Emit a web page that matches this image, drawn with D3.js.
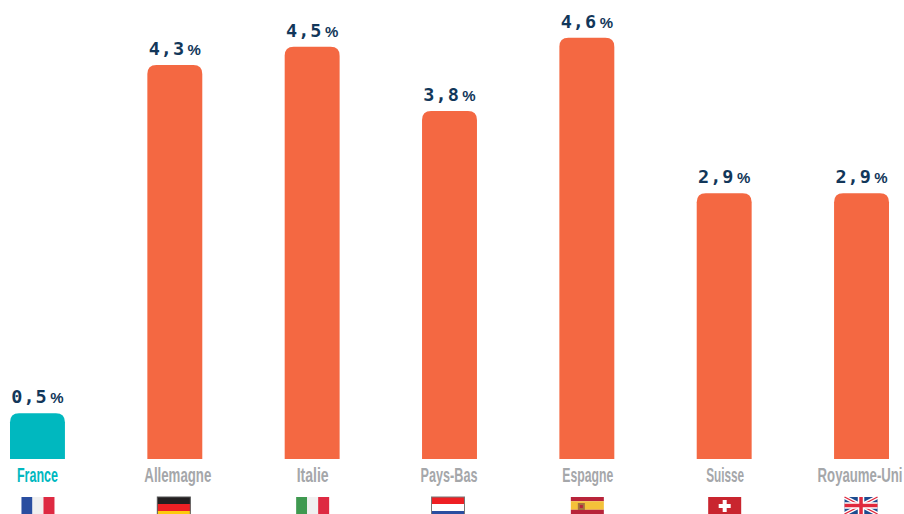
<!DOCTYPE html>
<html>
<head>
<meta charset="utf-8">
<script src="https://cdn.jsdelivr.net/npm/d3@7"></script>
<style>
html, body { margin: 0; padding: 0; background: #fff; overflow: hidden; }
</style>
</head>
<body>
<div id="container"></div>
<script>
const countries = ["France", "Allemagne", "Italie", "Pays-Bas", "Espagne", "Suisse", "Royaume-Uni"]
const values = [0.5, 4.3, 4.5, 3.8, 4.6, 2.9, 2.9]
const valueLabels = ["0,5", "4,3", "4,5", "3,8", "4,6", "2,9", "2,9"]

const width = 904
const height = 514
const baseline = 459

const orange = "#f46842"
const teal = "#00b8bf"
const navy = "#12375a"
const grey = "#a5a7aa"

// hand tuned, the labels and flags are not quite centred under the bars
const labelLayout = {
    "France": { w: 41, dx: 0 },
    "Allemagne": { w: 67, dx: 3 },
    "Italie": { w: 32, dx: 0.5 },
    "Pays-Bas": { w: 57, dx: -0.5 },
    "Espagne": { w: 51, dx: 1 },
    "Suisse": { w: 38, dx: 1 },
    "Royaume-Uni": { w: 85, dx: -1.5 }
}
const flagNudge = { "Allemagne": -1.5, "Pays-Bas": -2, "Royaume-Uni": -1 }

const x = d3.scaleBand().domain(countries).range([10, 889]).paddingInner(0.6).paddingOuter(0)
const y = d3.scaleLinear().domain([0, 5]).range([baseline, baseline - 458])

const svg = d3.select("#container").append("svg")
    .attr("width", width)
    .attr("height", height)
    .style("display", "block")

const data = countries.map((c, i) => ({ name: c, value: values[i], label: valueLabels[i] }))

function barPath(d) {
    const x0 = x(d.name), x1 = x0 + x.bandwidth(), y0 = y(d.value), r = 9
    return `M${x0},${baseline}V${y0 + r}Q${x0},${y0} ${x0 + r},${y0}H${x1 - r}Q${x1},${y0} ${x1},${y0 + r}V${baseline}Z`
}

svg.selectAll(".bar")
    .data(data)
    .enter()
    .append("path")
    .attr("class", "bar")
    .attr("d", barPath)
    .attr("fill", d => d.name === "France" ? teal : orange)

const valueGroup = svg.selectAll(".value")
    .data(data)
    .enter()
    .append("text")
    .attr("class", "value")
    .attr("x", d => x(d.name) + x.bandwidth() / 2)
    .attr("y", d => y(d.value) - 10)
    .attr("text-anchor", "middle")
    .attr("fill", navy)
    .attr("font-family", "'DejaVu Sans Mono', monospace")
    .attr("font-weight", "bold")

valueGroup.append("tspan")
    .attr("font-size", 18.5)
    .attr("letter-spacing", 1)
    .text(d => d.label)
valueGroup.append("tspan")
    .attr("font-size", 15)
    .attr("font-family", "'Liberation Sans', sans-serif")
    .attr("dx", 2.5)
    .text("%")

// the original face is condensed, so squeeze each label to its measured width
svg.selectAll(".country")
    .data(data)
    .enter()
    .append("text")
    .attr("class", "country")
    .attr("text-anchor", "middle")
    .attr("font-family", "'Liberation Sans Narrow', 'Liberation Sans', sans-serif")
    .attr("font-size", 20)
    .attr("font-weight", "bold")
    .attr("fill", d => d.name === "France" ? teal : grey)
    .text(d => d.name)
    .attr("transform", function(d) {
        const sx = labelLayout[d.name].w / this.getComputedTextLength()
        return `translate(${x(d.name) + x.bandwidth() / 2 + labelLayout[d.name].dx},482) scale(${sx},1)`
    })

// flags, each one a list of stripes
const flagW = 33
const flagH = 17
const flagTop = 497
const vertical = {
    "France": ["#2a4ea0", "#f0f0f0", "#de2a42"],
    "Italie": ["#3f9950", "#f0f0f0", "#de2a42"]
}
const horizontal = {
    "Allemagne": [["#231f20", 1], ["#ee2024", 1], ["#fdca0d", 1]],
    "Pays-Bas": [["#ee2024", 1], ["#ffffff", 1], ["#2a4ea0", 1]],
    "Espagne": [["#b8243a", 1], ["#f4c23a", 2], ["#b8243a", 1]],
    "Suisse": [["#c9252f", 1]],
    "Royaume-Uni": [["#1d4b8f", 1]]
}

const flags = svg.selectAll(".flag")
    .data(data)
    .enter()
    .append("g")
    .attr("class", "flag")
    .attr("transform", d => `translate(${x(d.name) + x.bandwidth() / 2 - flagW / 2 + 0.5 + (flagNudge[d.name] || 0)},${flagTop})`)

flags.each(function(d) {
    const g = d3.select(this)
    if (vertical[d.name]) {
        const sx = d3.scaleBand().domain([0, 1, 2]).range([0, flagW])
        g.selectAll("rect").data(vertical[d.name]).enter().append("rect")
            .attr("x", (c, i) => sx(i)).attr("y", 0)
            .attr("width", sx.bandwidth()).attr("height", flagH)
            .attr("fill", c => c)
    } else {
        const stripes = horizontal[d.name]
        const total = d3.sum(stripes, s => s[1])
        let acc = 0
        const visH = d.name === "Allemagne" || d.name === "Pays-Bas" ? 21 : flagH
        stripes.forEach(s => {
            g.append("rect")
                .attr("x", 0).attr("y", acc / total * visH)
                .attr("width", flagW).attr("height", s[1] / total * visH)
                .attr("fill", s[0])
            acc += s[1]
        })
    }
    if (d.name === "Allemagne" || d.name === "Pays-Bas") {
        g.append("rect").attr("x", 0).attr("y", 0).attr("width", flagW).attr("height", 21)
            .attr("fill", "none").attr("stroke", d.name === "Allemagne" ? "#555" : "#777").attr("stroke-width", 1)
    }
    if (d.name === "Espagne") {
        g.append("rect").attr("x", 7).attr("y", 6).attr("width", 7).attr("height", 7).attr("fill", "#a5713f")
        g.append("rect").attr("x", 9).attr("y", 8).attr("width", 3).attr("height", 3).attr("fill", "#b8243a")
    }
    if (d.name === "Suisse") {
        g.append("rect").attr("x", flagW / 2 - 6).attr("y", 7).attr("width", 12).attr("height", 4).attr("fill", "#fff")
        g.append("rect").attr("x", flagW / 2 - 2).attr("y", 3).attr("width", 4).attr("height", 12).attr("fill", "#fff")
    }
    if (d.name === "Royaume-Uni") {
        const h = 17
        g.append("path").attr("d", `M0,0L${flagW},${h}M${flagW},0L0,${h}`).attr("stroke", "#fff").attr("stroke-width", 4)
        g.append("path").attr("d", `M0,0L${flagW},${h}M${flagW},0L0,${h}`).attr("stroke", "#e0283c").attr("stroke-width", 1.3)
        g.append("path").attr("d", `M${flagW / 2},0V${h}M0,${h / 2}H${flagW}`).attr("stroke", "#fff").attr("stroke-width", 6.5)
        g.append("path").attr("d", `M${flagW / 2},0V${h}M0,${h / 2}H${flagW}`).attr("stroke", "#e0283c").attr("stroke-width", 3.5)
    }
})
</script>
</body>
</html>
